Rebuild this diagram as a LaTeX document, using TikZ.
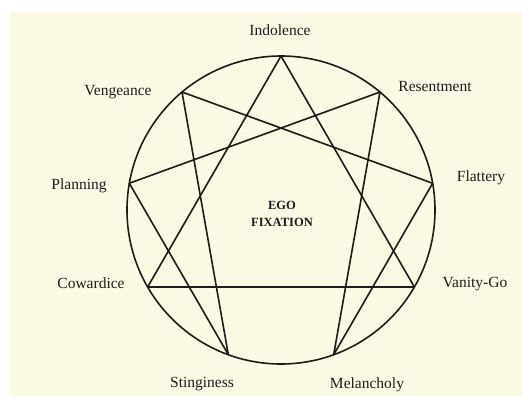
\documentclass[tikz,border=0pt]{standalone}
\usepackage{fontspec}
\setmainfont{Liberation Serif}
\definecolor{paper}{RGB}{251,249,227}
\definecolor{ink}{RGB}{30,28,26}

\tikzset{
  lbl/.style={font=\fontsize{15.5}{18}\selectfont, text=ink, inner sep=0pt},
  core/.style={font=\fontsize{12.5}{14}\selectfont\bfseries, text=ink, inner sep=0pt},
  edge/.style={draw=ink, line width=1.6pt, line join=round}
}

\begin{document}
\begin{tikzpicture}[x=1pt,y=-1pt]

  % page and paper
  \fill[white] (0,0) rectangle (522,396);
  \fill[paper] (10,12) rectangle (522,396);
  \useasboundingbox (0,0) rectangle (522,396);

  % circle and nine points
  \coordinate (c) at (281,210);
  \draw[edge] (c) circle (154);
  \foreach \k in {0,...,8}
    \coordinate (p\k) at ({281+154*cos(90-40*\k)},{210-154*sin(90-40*\k)});

  % triangle 9-3-6
  \draw[edge] (p0) -- (p3) -- (p6) -- cycle;
  % hexad 1-4-2-8-5-7
  \draw[edge] (p1) -- (p4) -- (p2) -- (p8) -- (p5) -- (p7) -- cycle;

  % labels
  \node[lbl] (indolence)  at (280,30)  {Indolence};
  \node[lbl] (resentment) at (435,87)  {Resentment};
  \node[lbl] (flattery)   at (481,178) {Flattery};
  \node[lbl] (vanity)     at (475,284) {Vanity-Go};
  \node[lbl] (melancholy) at (367,385) {Melancholy};
  \node[lbl] (stinginess) at (202,384) {Stinginess};
  \node[lbl] (cowardice)  at (91,283)  {Cowardice};
  \node[lbl] (planning)   at (79,186)  {Planning};
  \node[lbl] (vengeance)  at (118,92)  {Vengeance};

  % centre
  \node[core] (ego) at (282,205) {EGO};
  \node[core] (fixation) at (282,222) {FIXATION};
\end{tikzpicture}
\end{document}
